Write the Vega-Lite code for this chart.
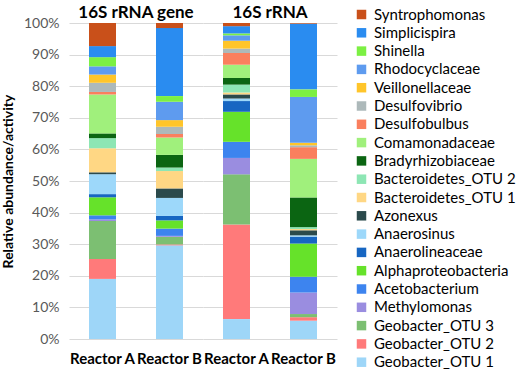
{
  "$schema": "https://vega.github.io/schema/vega-lite/v6.json",
  "background": "white",
  "padding": {"left": 1, "top": 4, "right": 2, "bottom": 5},
  "data": {
    "values": [
      {"method": "16S rRNA gene", "reactor": "Reactor A", "taxon": "Geobacter_OTU 1", "v": 19},
      {"method": "16S rRNA gene", "reactor": "Reactor A", "taxon": "Geobacter_OTU 2", "v": 6.3},
      {"method": "16S rRNA gene", "reactor": "Reactor A", "taxon": "Geobacter_OTU 3", "v": 12},
      {"method": "16S rRNA gene", "reactor": "Reactor A", "taxon": "Methylomonas", "v": 0.5},
      {"method": "16S rRNA gene", "reactor": "Reactor A", "taxon": "Acetobacterium", "v": 1.3},
      {"method": "16S rRNA gene", "reactor": "Reactor A", "taxon": "Alphaproteobacteria", "v": 5.7},
      {"method": "16S rRNA gene", "reactor": "Reactor A", "taxon": "Anaerolineaceae", "v": 1},
      {"method": "16S rRNA gene", "reactor": "Reactor A", "taxon": "Anaerosinus", "v": 6.3},
      {"method": "16S rRNA gene", "reactor": "Reactor A", "taxon": "Azonexus", "v": 0.6},
      {"method": "16S rRNA gene", "reactor": "Reactor A", "taxon": "Bacteroidetes_OTU 1", "v": 7.6},
      {"method": "16S rRNA gene", "reactor": "Reactor A", "taxon": "Bacteroidetes_OTU 2", "v": 3.2},
      {"method": "16S rRNA gene", "reactor": "Reactor A", "taxon": "Bradyrhizobiaceae", "v": 1.5},
      {"method": "16S rRNA gene", "reactor": "Reactor A", "taxon": "Comamonadaceae", "v": 12.3},
      {"method": "16S rRNA gene", "reactor": "Reactor A", "taxon": "Desulfobulbus", "v": 0.8},
      {"method": "16S rRNA gene", "reactor": "Reactor A", "taxon": "Desulfovibrio", "v": 2.9},
      {"method": "16S rRNA gene", "reactor": "Reactor A", "taxon": "Veillonellaceae", "v": 2.6},
      {"method": "16S rRNA gene", "reactor": "Reactor A", "taxon": "Rhodocyclaceae", "v": 2.6},
      {"method": "16S rRNA gene", "reactor": "Reactor A", "taxon": "Shinella", "v": 2.9},
      {"method": "16S rRNA gene", "reactor": "Reactor A", "taxon": "Simplicispira", "v": 3.5},
      {"method": "16S rRNA gene", "reactor": "Reactor A", "taxon": "Syntrophomonas", "v": 7.3},

      {"method": "16S rRNA gene", "reactor": "Reactor B", "taxon": "Geobacter_OTU 1", "v": 29.6},
      {"method": "16S rRNA gene", "reactor": "Reactor B", "taxon": "Geobacter_OTU 2", "v": 0.3},
      {"method": "16S rRNA gene", "reactor": "Reactor B", "taxon": "Geobacter_OTU 3", "v": 2.4},
      {"method": "16S rRNA gene", "reactor": "Reactor B", "taxon": "Methylomonas", "v": 0.3},
      {"method": "16S rRNA gene", "reactor": "Reactor B", "taxon": "Acetobacterium", "v": 2.3},
      {"method": "16S rRNA gene", "reactor": "Reactor B", "taxon": "Alphaproteobacteria", "v": 2.6},
      {"method": "16S rRNA gene", "reactor": "Reactor B", "taxon": "Anaerolineaceae", "v": 1.4},
      {"method": "16S rRNA gene", "reactor": "Reactor B", "taxon": "Anaerosinus", "v": 5.7},
      {"method": "16S rRNA gene", "reactor": "Reactor B", "taxon": "Azonexus", "v": 3},
      {"method": "16S rRNA gene", "reactor": "Reactor B", "taxon": "Bacteroidetes_OTU 1", "v": 5.5},
      {"method": "16S rRNA gene", "reactor": "Reactor B", "taxon": "Bacteroidetes_OTU 2", "v": 1.1},
      {"method": "16S rRNA gene", "reactor": "Reactor B", "taxon": "Bradyrhizobiaceae", "v": 4},
      {"method": "16S rRNA gene", "reactor": "Reactor B", "taxon": "Comamonadaceae", "v": 5.5},
      {"method": "16S rRNA gene", "reactor": "Reactor B", "taxon": "Desulfobulbus", "v": 1.1},
      {"method": "16S rRNA gene", "reactor": "Reactor B", "taxon": "Desulfovibrio", "v": 2.3},
      {"method": "16S rRNA gene", "reactor": "Reactor B", "taxon": "Veillonellaceae", "v": 2.1},
      {"method": "16S rRNA gene", "reactor": "Reactor B", "taxon": "Rhodocyclaceae", "v": 5.8},
      {"method": "16S rRNA gene", "reactor": "Reactor B", "taxon": "Shinella", "v": 1.8},
      {"method": "16S rRNA gene", "reactor": "Reactor B", "taxon": "Simplicispira", "v": 21.5},
      {"method": "16S rRNA gene", "reactor": "Reactor B", "taxon": "Syntrophomonas", "v": 1.6},

      {"method": "16S rRNA", "reactor": "Reactor A", "taxon": "Geobacter_OTU 1", "v": 6.3},
      {"method": "16S rRNA", "reactor": "Reactor A", "taxon": "Geobacter_OTU 2", "v": 29.9},
      {"method": "16S rRNA", "reactor": "Reactor A", "taxon": "Geobacter_OTU 3", "v": 15.9},
      {"method": "16S rRNA", "reactor": "Reactor A", "taxon": "Methylomonas", "v": 5.2},
      {"method": "16S rRNA", "reactor": "Reactor A", "taxon": "Acetobacterium", "v": 5.1},
      {"method": "16S rRNA", "reactor": "Reactor A", "taxon": "Alphaproteobacteria", "v": 9.5},
      {"method": "16S rRNA", "reactor": "Reactor A", "taxon": "Anaerolineaceae", "v": 3.4},
      {"method": "16S rRNA", "reactor": "Reactor A", "taxon": "Anaerosinus", "v": 0.8},
      {"method": "16S rRNA", "reactor": "Reactor A", "taxon": "Azonexus", "v": 1.3},
      {"method": "16S rRNA", "reactor": "Reactor A", "taxon": "Bacteroidetes_OTU 1", "v": 0.6},
      {"method": "16S rRNA", "reactor": "Reactor A", "taxon": "Bacteroidetes_OTU 2", "v": 2.5},
      {"method": "16S rRNA", "reactor": "Reactor A", "taxon": "Bradyrhizobiaceae", "v": 2.1},
      {"method": "16S rRNA", "reactor": "Reactor A", "taxon": "Comamonadaceae", "v": 4.2},
      {"method": "16S rRNA", "reactor": "Reactor A", "taxon": "Desulfobulbus", "v": 3.7},
      {"method": "16S rRNA", "reactor": "Reactor A", "taxon": "Desulfovibrio", "v": 1.4},
      {"method": "16S rRNA", "reactor": "Reactor A", "taxon": "Veillonellaceae", "v": 2.5},
      {"method": "16S rRNA", "reactor": "Reactor A", "taxon": "Rhodocyclaceae", "v": 1.7},
      {"method": "16S rRNA", "reactor": "Reactor A", "taxon": "Shinella", "v": 0.6},
      {"method": "16S rRNA", "reactor": "Reactor A", "taxon": "Simplicispira", "v": 2.3},
      {"method": "16S rRNA", "reactor": "Reactor A", "taxon": "Syntrophomonas", "v": 1},

      {"method": "16S rRNA", "reactor": "Reactor B", "taxon": "Geobacter_OTU 1", "v": 5.8},
      {"method": "16S rRNA", "reactor": "Reactor B", "taxon": "Geobacter_OTU 2", "v": 1.1},
      {"method": "16S rRNA", "reactor": "Reactor B", "taxon": "Geobacter_OTU 3", "v": 1.0},
      {"method": "16S rRNA", "reactor": "Reactor B", "taxon": "Methylomonas", "v": 6.8},
      {"method": "16S rRNA", "reactor": "Reactor B", "taxon": "Acetobacterium", "v": 5},
      {"method": "16S rRNA", "reactor": "Reactor B", "taxon": "Alphaproteobacteria", "v": 10.5},
      {"method": "16S rRNA", "reactor": "Reactor B", "taxon": "Anaerolineaceae", "v": 2.2},
      {"method": "16S rRNA", "reactor": "Reactor B", "taxon": "Anaerosinus", "v": 0.4},
      {"method": "16S rRNA", "reactor": "Reactor B", "taxon": "Azonexus", "v": 1.6},
      {"method": "16S rRNA", "reactor": "Reactor B", "taxon": "Bacteroidetes_OTU 1", "v": 0.4},
      {"method": "16S rRNA", "reactor": "Reactor B", "taxon": "Bacteroidetes_OTU 2", "v": 0.6},
      {"method": "16S rRNA", "reactor": "Reactor B", "taxon": "Bradyrhizobiaceae", "v": 9.4},
      {"method": "16S rRNA", "reactor": "Reactor B", "taxon": "Comamonadaceae", "v": 12.2},
      {"method": "16S rRNA", "reactor": "Reactor B", "taxon": "Desulfobulbus", "v": 3.7},
      {"method": "16S rRNA", "reactor": "Reactor B", "taxon": "Desulfovibrio", "v": 0.6},
      {"method": "16S rRNA", "reactor": "Reactor B", "taxon": "Veillonellaceae", "v": 0.8},
      {"method": "16S rRNA", "reactor": "Reactor B", "taxon": "Rhodocyclaceae", "v": 14.5},
      {"method": "16S rRNA", "reactor": "Reactor B", "taxon": "Shinella", "v": 2.4},
      {"method": "16S rRNA", "reactor": "Reactor B", "taxon": "Simplicispira", "v": 20.8},
      {"method": "16S rRNA", "reactor": "Reactor B", "taxon": "Syntrophomonas", "v": 0.2}
    ]
  },
  "transform": [
    {"calculate": "indexof(['Geobacter_OTU 1','Geobacter_OTU 2','Geobacter_OTU 3','Methylomonas','Acetobacterium','Alphaproteobacteria','Anaerolineaceae','Anaerosinus','Azonexus','Bacteroidetes_OTU 1','Bacteroidetes_OTU 2','Bradyrhizobiaceae','Comamonadaceae','Desulfobulbus','Desulfovibrio','Veillonellaceae','Rhodocyclaceae','Shinella','Simplicispira','Syntrophomonas'], datum.taxon)", "as": "o"}
  ],
  "facet": {
    "column": {
      "field": "method",
      "type": "nominal",
      "sort": ["16S rRNA gene", "16S rRNA"],
      "header": {
        "title": null,
        "labelOrient": "top",
        "labelFont": "Lato",
        "labelFontWeight": "bold",
        "labelFontSize": 17,
        "labelColor": "black",
        "labelPadding": 1
      }
    }
  },
  "spacing": 0,
  "spec": {
    "width": 134,
    "height": 316,
    "mark": {"type": "bar"},
    "encoding": {
      "x": {
        "field": "reactor",
        "type": "nominal",
        "scale": {"paddingInner": 0.597, "paddingOuter": 0.2985},
        "axis": {
          "title": null,
          "labelAngle": 0,
          "labelFont": "Lato",
          "labelFontWeight": "bold",
          "labelFontSize": 15,
          "labelColor": "black",
          "labelPadding": 12,
          "ticks": false,
          "domain": false,
          "grid": false
        }
      },
      "y": {
        "field": "v",
        "type": "quantitative",
        "stack": "normalize",
        "scale": {"domain": [0, 1]},
        "axis": {
          "title": "Relative abundance/activity",
          "titleFont": "Lato",
          "titleFontSize": 14,
          "titleFontWeight": "bold",
          "titleColor": "black",
          "titlePadding": 8,
          "values": [0, 0.1, 0.2, 0.3, 0.4, 0.5, 0.6, 0.7, 0.8, 0.9, 1],
          "format": ".0%",
          "labelFont": "Lato",
          "labelFontSize": 14,
          "labelColor": "#595959",
          "labelPadding": 10,
          "ticks": false,
          "domain": false,
          "gridColor": "#d9d9d9"
        }
      },
      "color": {
        "field": "taxon",
        "type": "nominal",
        "scale": {
          "domain": ["Syntrophomonas", "Simplicispira", "Shinella", "Rhodocyclaceae", "Veillonellaceae", "Desulfovibrio", "Desulfobulbus", "Comamonadaceae", "Bradyrhizobiaceae", "Bacteroidetes_OTU 2", "Bacteroidetes_OTU 1", "Azonexus", "Anaerosinus", "Anaerolineaceae", "Alphaproteobacteria", "Acetobacterium", "Methylomonas", "Geobacter_OTU 3", "Geobacter_OTU 2", "Geobacter_OTU 1"],
          "range": ["#C9501A", "#2A8CF0", "#7CF043", "#5E9BEF", "#FFC52A", "#ADB9BA", "#FA7F5E", "#A0F07C", "#0B6512", "#8DE6B4", "#FFD784", "#2B4A4C", "#9DD8FA", "#1766C2", "#66E22A", "#3D84EF", "#9A8DE0", "#7CBF72", "#FF7A7A", "#9ED6F8"]
        },
        "legend": {
          "title": null,
          "orient": "none",
          "legendX": 285,
          "legendY": -16,
          "symbolType": "square",
          "symbolSize": 90,
          "symbolStrokeWidth": 0,
          "labelFont": "Lato",
          "labelFontSize": 15,
          "labelColor": "black",
          "labelLimit": 0,
          "rowPadding": 2.3,
          "labelOffset": 5
        }
      },
      "order": {"field": "o", "type": "quantitative", "sort": "ascending"}
    }
  },
  "config": {
    "view": {"stroke": null},
    "font": "Lato"
  }
}
